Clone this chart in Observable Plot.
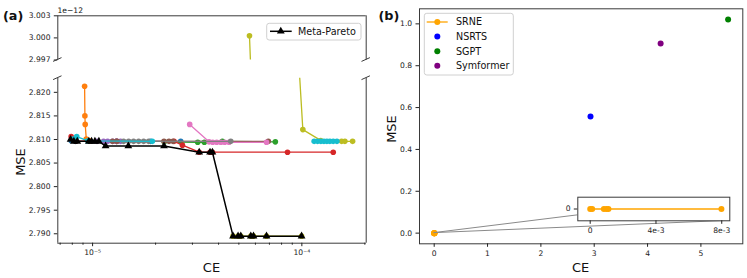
<!DOCTYPE html>
<html><head><meta charset="utf-8">
<script src="https://cdn.jsdelivr.net/npm/d3@7"></script>
<script src="https://cdn.jsdelivr.net/npm/@observablehq/plot@0.6"></script>
<style>
body{margin:0;background:#fff;}
#wrap{position:relative;width:747px;height:278px;overflow:hidden;font-family:"DejaVu Sans",sans-serif;}
#wrap svg{position:absolute;left:0;top:0;overflow:visible;background:transparent;}
</style></head><body><div id="wrap"></div>
<script>
// ---------- Panel (a) data (MSE in units of 1e-12) ----------
const runNames  = ["run1","run2","run3","run4","run5","run6","run7","run8","run9","run10","run11","run12"];
const runColors = ["#1f77b4","#ff7f0e","#2ca02c","#d62728","#9467bd","#8c564b","#e377c2","#7f7f7f","#bcbd22","#17becf","#17becf","#bcbd22"];
const runCE = [
  [7.89e-6, 8.29e-6, 1.3e-5, 1.894e-5, 2.637e-5],
  [9.16e-6, 9.19e-6, 9.22e-6, 9.33e-6, 9.7e-6],
  [2.2e-5, 3.18e-5, 3.42e-5, 4.17e-5, 7.47e-5],
  [7.9e-6, 8.3e-6, 1.3e-5, 2.45e-5, 2.687e-5, 3.233e-5, 3.641e-5, 3.738e-5, 8.54e-5, 1.4125e-4],
  [1.05e-5, 1.129e-5, 1.18e-5, 1.246e-5, 1.303e-5, 1.361e-5],
  [1.246e-5, 1.31e-5, 2.194e-5, 2.318e-5, 2.423e-5, 6.915e-5],
  [2.911e-5, 3.602e-5, 3.75e-5, 3.92e-5, 4.1e-5, 4.28e-5, 4.489e-5, 6.778e-5],
  [1.407e-5, 1.487e-5, 1.57e-5, 1.66e-5, 1.754e-5, 1.853e-5, 4.574e-5],
  [5.62e-5, 1.011e-4, 1.23e-4, 1.549e-4, 1.606e-4, 1.748e-4],
  [1.145e-4, 1.189e-4, 1.233e-4, 1.275e-4, 1.317e-4, 1.361e-4, 1.412e-4, 1.471e-4],
  [8.05e-6, 8.4e-6, 9.5e-6, 1.93e-5],
  [4.691e-5, 4.957e-5, 5.107e-5, 5.702e-5, 5.874e-5, 6.778e-5, 9.97e-5]
];
const runMSE = [
  [2.8098, 2.8096, 2.8096, 2.8096, 2.8096],
  [2.8213, 2.8150, 2.8132, 2.8101, 2.8097],
  [2.8095, 2.8094, 2.8094, 2.8096, 2.8095],
  [2.8106, 2.8097, 2.8096, 2.8096, 2.8088, 2.8073, 2.8073, 2.8073, 2.8073, 2.8073],
  [2.8096, 2.8096, 2.8096, 2.8096, 2.8096, 2.8096],
  [2.8096, 2.8096, 2.8096, 2.8096, 2.8096, 2.8096],
  [2.8132, 2.8095, 2.8094, 2.8094, 2.8094, 2.8094, 2.8094, 2.8094],
  [2.8096, 2.8096, 2.8096, 2.8096, 2.8096, 2.8096, 2.8096],
  [3.0003, 2.8121, 2.8098, 2.8096, 2.8096, 2.8096],
  [2.8096, 2.8096, 2.8096, 2.8096, 2.8096, 2.8096, 2.8096, 2.8096],
  [2.8101, 2.8106, 2.8097, 2.8096],
  [2.7895, 2.7895, 2.7895, 2.7895, 2.7895, 2.7895, 2.7895]
];
const metaCE  = [7.85e-6, 8.14e-6, 8.45e-6, 9.60e-6, 9.89e-6, 1.026e-5, 1.072e-5, 1.154e-5, 1.482e-5, 2.194e-5, 3.233e-5, 3.641e-5, 3.738e-5, 4.691e-5, 4.957e-5, 5.107e-5, 5.702e-5, 5.874e-5, 6.778e-5, 9.97e-5];
const metaMSE = [2.8100, 2.8096, 2.8096, 2.8096, 2.8096, 2.8096, 2.8096, 2.8086, 2.8086, 2.8086, 2.8073, 2.8073, 2.8073, 2.7895, 2.7895, 2.7895, 2.7895, 2.7895, 2.7895, 2.7895];
const ceDomain = [6.82e-6, 2.03e-4];
const lowDomain = [2.788, 2.823];
const upDomain = [2.997, 3.003];
const lowTicks = [2.790, 2.795, 2.800, 2.805, 2.810, 2.815, 2.820];
const upTicks = [2.997, 3.000, 3.003];
const majorCE = [1e-5, 1e-4];
const majorLabels = ["10\u207B\u2075", "10\u207B\u2074"];
const minorCE = [7e-6, 8e-6, 9e-6, 2e-5, 3e-5, 4e-5, 5e-5, 6e-5, 7e-5, 8e-5, 9e-5, 2e-4];

// ---------- Panel (b) data ----------
const methods = ["SRNE", "NSRTS", "SGPT", "Symformer"];
const methodColors = ["orange", "#0000ff", "#008000", "#800080"];
const srneCE  = [0, 0.00012, 0.00083, 0.00099, 0.00111, 0.00798];
const srneMSE = [2.81e-12, 2.81e-12, 2.81e-12, 2.81e-12, 2.81e-12, 2.81e-12];
const otherCE  = [2.93, 5.51, 4.245];
const otherMSE = [0.557, 1.021, 0.906];
const bX = [-0.2755, 5.7855], bY = [-0.051, 1.072];
const bXTicks = [0, 1, 2, 3, 4, 5];
const bYTicks = [0, 0.2, 0.4, 0.6, 0.8, 1.0];
const insX = [-0.000754, 0.00849], insY = [-1, 1];
const insXTicks = [0, 0.004, 0.008];
const insXLabels = ["0", "4e-3", "8e-3"];

// ---------- drawing ----------
const W = 747, H = 278;
const FONT = "DejaVu Sans";
const spine = "#3a3a3a";
const wrap = document.getElementById("wrap");
const baseStyle = {background: "transparent", fontFamily: FONT, fontSize: "7.6px", color: "#222", overflow: "visible"};
function box(l, t, r, b) { return {width: W, height: H, marginLeft: l, marginTop: t, marginRight: W - r, marginBottom: H - b, style: baseStyle}; }

function runMarks() {
  const marks = [];
  runNames.forEach((name, i) => {
    const rows = runCE[i].map((c, j) => ({ce: c, mse: runMSE[i][j]}));
    marks.push(Plot.line(rows, {x: "ce", y: "mse", stroke: runColors[i], strokeWidth: 1.3, clip: true}));
    marks.push(Plot.dot(rows, {x: "ce", y: "mse", fill: runColors[i], r: 2.8, clip: true}));
  });
  const meta = metaCE.map((c, j) => ({ce: c, mse: metaMSE[j]}));
  marks.push(Plot.line(meta, {x: "ce", y: "mse", stroke: "black", strokeWidth: 1.5, clip: true}));
  marks.push(Plot.dot(meta, {x: "ce", y: "mse", symbol: "triangle", fill: "black", r: 2.9, clip: true}));
  return marks;
}

const lower = Plot.plot({
  ...box(57.3, 77.7, 365.7, 242.7),
  x: {type: "log", domain: ceDomain},
  y: {domain: lowDomain},
  marks: [
    ...runMarks(),
    Plot.ruleX(ceDomain, {stroke: spine}),
    Plot.ruleY([lowDomain[0]], {stroke: spine}),
    Plot.axisY({ticks: lowTicks, tickFormat: d3.format(".3f"), tickSize: 3.5, tickPadding: 3.8, label: null}),
    Plot.axisX({ticks: majorCE, tickFormat: d => majorLabels[majorCE.indexOf(d)], tickSize: 3.5, tickPadding: 3, label: null}),
    Plot.axisX({ticks: minorCE, tickFormat: () => "", tickSize: 2, label: null})
  ]
});

const upper = Plot.plot({
  ...box(57.3, 15.3, 365.7, 59.5),
  x: {type: "log", domain: ceDomain, axis: null},
  y: {domain: upDomain},
  marks: [
    ...runMarks(),
    Plot.ruleX(ceDomain, {stroke: spine}),
    Plot.ruleY([upDomain[1]], {stroke: spine}),
    Plot.axisY({ticks: upTicks, tickFormat: d3.format(".3f"), tickSize: 3.5, tickPadding: 3.8, label: null})
  ]
});

const srneRows = srneCE.map((c, j) => ({ce: c, mse: srneMSE[j]}));
const bMarks = [
  Plot.frame({stroke: spine}),
  Plot.axisX({ticks: bXTicks, tickFormat: d => String(d), tickSize: 3.5, tickPadding: 3, label: null}),
  Plot.axisY({ticks: bYTicks, tickFormat: d3.format(".1f"), tickSize: 3.5, tickPadding: 3.8, label: null}),
  Plot.line(srneRows, {x: "ce", y: "mse", stroke: methodColors[0], strokeWidth: 1.3}),
  Plot.dot(srneRows, {x: "ce", y: "mse", fill: methodColors[0], r: 3})
];
otherCE.forEach((c, i) => bMarks.push(Plot.dot([{ce: c, mse: otherMSE[i]}], {x: "ce", y: "mse", fill: methodColors[i + 1], r: 3})));
const main = Plot.plot({
  ...box(419, 8.3, 742.3, 243.3),
  x: {domain: bX}, y: {domain: bY},
  marks: bMarks
});

const inset = Plot.plot({
  ...box(577.3, 196.7, 729.3, 220.3),
  x: {domain: insX}, y: {domain: insY},
  marks: [
    Plot.frame({fill: "white", stroke: spine}),
    Plot.line(srneRows, {x: "ce", y: "mse", stroke: methodColors[0], strokeWidth: 1.3}),
    Plot.dot(srneRows, {x: "ce", y: "mse", fill: methodColors[0], r: 3}),
    Plot.axisX({ticks: insXTicks, tickFormat: d => insXLabels[insXTicks.indexOf(d)], tickSize: 3.5, tickPadding: 3, label: null}),
    Plot.axisY({ticks: [0], tickFormat: () => "0", tickSize: 3.5, tickPadding: 3.8, label: null})
  ]
});

// connector lines from zoomed point to the inset
{
  const mx = main.scale("x"), my = main.scale("y");
  const ix = inset.scale("x"), iy = inset.scale("y");
  const p0 = [mx.apply(srneCE[0]), my.apply(srneMSE[0])];
  const L = Math.min(...ix.range), R = Math.max(...ix.range);
  const T = Math.min(...iy.range), B = Math.max(...iy.range);
  const g = d3.select(main).append("g").attr("stroke", "#8a8a8a").attr("stroke-width", 1).attr("fill", "none");
  g.append("line").attr("x1", p0[0]).attr("y1", p0[1]).attr("x2", L).attr("y2", B - 0.23 * (B - T));
  g.append("line").attr("x1", p0[0]).attr("y1", p0[1]).attr("x2", R).attr("y2", B);
}

// break marks between the two halves of panel (a)
function breakMarks(plot, yEdge) {
  const xs = plot.scale("x").range;
  const g = d3.select(plot).append("g").attr("stroke", spine).attr("stroke-width", 1);
  xs.forEach(x => g.append("line").attr("x1", x - 4.2).attr("y1", yEdge + 1.9).attr("x2", x + 4.2).attr("y2", yEdge - 1.9));
}
breakMarks(upper, Math.max(...upper.scale("y").range));
breakMarks(lower, Math.min(...lower.scale("y").range));

wrap.append(lower, upper, main, inset);

// ---------- text & legends ----------
const ov = d3.select(wrap).append("svg").attr("width", W).attr("height", H)
  .style("font-family", FONT).attr("fill", "#111");
ov.append("text").attr("x", 3).attr("y", 20).attr("font-size", 12.8).attr("font-weight", "bold").text("(a)");
ov.append("text").attr("x", 378.5).attr("y", 19.5).attr("font-size", 12.8).attr("font-weight", "bold").text("(b)");
ov.append("text").attr("x", 57.5).attr("y", 12.5).attr("font-size", 7.6).text("1e\u221212");
ov.append("text").attr("transform", "translate(25,162) rotate(-90)").attr("text-anchor", "middle").attr("font-size", 13).text("MSE");
ov.append("text").attr("transform", "translate(396,129) rotate(-90)").attr("text-anchor", "middle").attr("font-size", 13).text("MSE");
ov.append("text").attr("x", 211.5).attr("y", 271.5).attr("text-anchor", "middle").attr("font-size", 13).text("CE");
ov.append("text").attr("x", 580.7).attr("y", 271.5).attr("text-anchor", "middle").attr("font-size", 13).text("CE");

// legend (a)
{
  const g = ov.append("g");
  g.append("rect").attr("x", 266.7).attr("y", 23.3).attr("width", 94.3).attr("height", 16.7).attr("rx", 2.5)
    .attr("fill", "white").attr("fill-opacity", 0.85).attr("stroke", "#d0d0d0");
  g.append("line").attr("x1", 270).attr("x2", 291.7).attr("y1", 31.3).attr("y2", 31.3).attr("stroke", "black").attr("stroke-width", 1.5);
  g.append("path").attr("d", d3.symbol(d3.symbolTriangle, Math.PI * 2.9 * 2.9)()).attr("transform", "translate(280.8,31.3)").attr("fill", "black");
  g.append("text").attr("x", 298).attr("y", 31.3).attr("dy", "0.35em").attr("font-size", 9.6).text("Meta-Pareto");
}
// legend (b)
{
  const g = ov.append("g");
  g.append("rect").attr("x", 424.3).attr("y", 13.3).attr("width", 89).attr("height", 61.7).attr("rx", 2.5)
    .attr("fill", "white").attr("fill-opacity", 0.85).attr("stroke", "#d0d0d0");
  methods.forEach((m, i) => {
    const y = 22 + i * 14.6;
    if (i === 0) g.append("line").attr("x1", 426.7).attr("x2", 447.7).attr("y1", y).attr("y2", y).attr("stroke", methodColors[0]).attr("stroke-width", 1.3);
    g.append("circle").attr("cx", 437.3).attr("cy", y).attr("r", 3).attr("fill", methodColors[i]);
    g.append("text").attr("x", 456).attr("y", y).attr("dy", "0.35em").attr("font-size", 9.6).text(m);
  });
}
</script></body></html>
